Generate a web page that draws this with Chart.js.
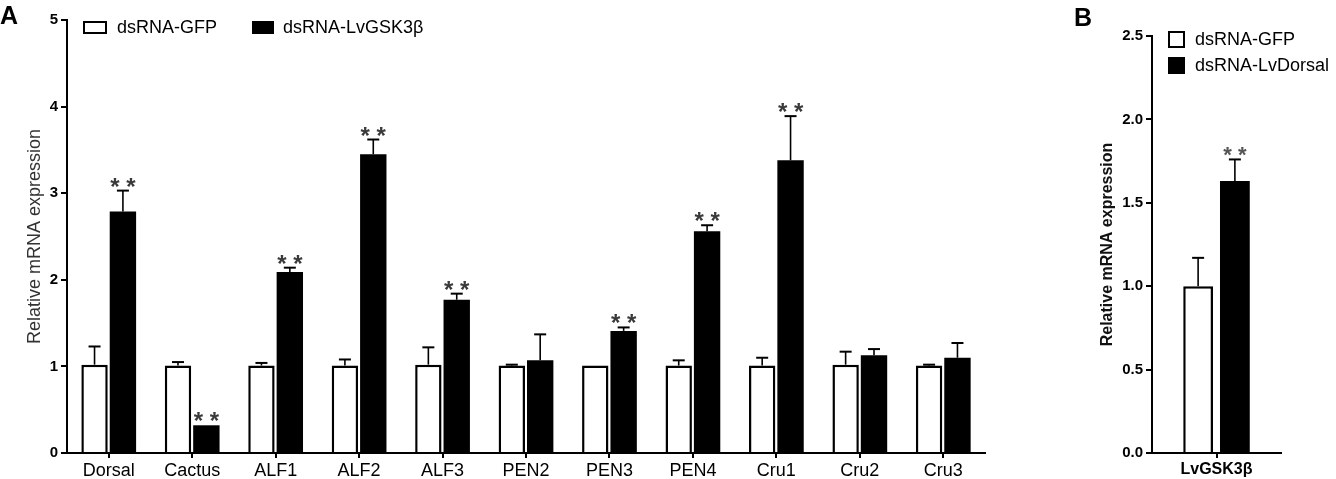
<!DOCTYPE html>
<html>
<head>
<meta charset="utf-8">
<script src="https://cdn.jsdelivr.net/npm/chart.js@4.4.1/dist/chart.umd.min.js"></script>
<style>
  body { margin: 0; background: #fff; font-family: "Liberation Sans", Arial, sans-serif; }
  #wrap { position: relative; width: 1336px; height: 479px; overflow: hidden; }
  .box { position: absolute; top: 0; height: 479px; }
  .panel { position: absolute; font-weight: bold; font-size: 25px; line-height: 25px; color: #000; }
  .leg { position: absolute; height: 20px; display: flex; align-items: center; font-size: 18px; color: #000; white-space: nowrap; }
  .sw { display: inline-block; box-sizing: border-box; border: 2.5px solid #000; }
</style>
</head>
<body>
<div id="wrap">
  <div class="box" style="left:0; width:1000px;"><canvas id="chartA"></canvas></div>
  <div class="box" style="left:1090px; width:246px;"><canvas id="chartB"></canvas></div>

  <div class="panel" style="left:0; top:3px;">A</div>
  <div class="panel" style="left:1074px; top:5px;">B</div>

  <!-- legends -->
  <div class="leg" style="left:83px; top:17px;"><span class="sw" style="width:24px;height:13px;background:#fff;margin-right:10px;"></span>dsRNA-GFP</div>
  <div class="leg" style="left:252px; top:17px;"><span class="sw" style="width:22px;height:13px;background:#000;margin-right:9px;"></span>dsRNA-LvGSK3β</div>
  <div class="leg" style="left:1168px; top:29px;"><span class="sw" style="width:17px;height:17px;background:#fff;margin-right:10px;"></span>dsRNA-GFP</div>
  <div class="leg" style="left:1168px; top:55px;"><span class="sw" style="width:17px;height:17px;background:#000;margin-right:10px;"></span>dsRNA-LvDorsal</div>
</div>

<script>
// ---- panel A data
const genesA = ['Dorsal', 'Cactus', 'ALF1', 'ALF2', 'ALF3', 'PEN2', 'PEN3', 'PEN4', 'Cru1', 'Cru2', 'Cru3'];
const gfpA    = [1.02, 1.01, 1.01, 1.01, 1.02, 1.01, 1.01, 1.01, 1.01, 1.02, 1.01];
const gfpErrA = [0.21, 0.04, 0.03, 0.07, 0.20, 0.01, 0.00, 0.06, 0.09, 0.15, 0.01];
const gskA    = [2.79, 0.32, 2.09, 3.45, 1.77, 1.07, 1.41, 2.56, 3.38, 1.13, 1.10];
const gskErrA = [0.24, 0.00, 0.05, 0.17, 0.07, 0.30, 0.04, 0.07, 0.51, 0.07, 0.17];
const sigA    = [true, true, true, true, true, false, true, true, true, false, false];

// ---- panel B data
const genesB    = ['LvGSK3β'];
const gfpB      = [1.00];
const gfpErrB   = [0.17];
const dorsalB   = [1.63];
const dorsalErrB = [0.13];
const sigB      = [true];

const FONT = '"Liberation Sans", Arial, sans-serif';
Chart.defaults.font.family = FONT;
Chart.defaults.color = '#000';

// error bars (upper only) + significance stars
const errStars = {
  id: 'errStars',
  afterDatasetsDraw(chart, args, opts) {
    const ctx = chart.ctx;
    const yScale = chart.scales.y;
    ctx.save();
    chart.data.datasets.forEach((ds, di) => {
      const meta = chart.getDatasetMeta(di);
      const err = opts.errors[di];
      const sig = opts.stars[di];
      meta.data.forEach((bar, i) => {
        const top = yScale.getPixelForValue(ds.data[i] + err[i]);
        if (err[i] > 0) {
          ctx.strokeStyle = '#000';
          ctx.lineWidth = 1.6;
          ctx.beginPath();
          ctx.moveTo(bar.x, bar.y);
          ctx.lineTo(bar.x, top);
          ctx.stroke();
          ctx.lineWidth = 2;
          ctx.beginPath();
          ctx.moveTo(bar.x - opts.capW / 2, top);
          ctx.lineTo(bar.x + opts.capW / 2, top);
          ctx.stroke();
        }
        if (sig && sig[i]) {
          ctx.fillStyle = opts.starColor;
          ctx.font = opts.starFont;
          ctx.textAlign = 'center';
          ctx.textBaseline = 'alphabetic';
          ctx.fillText('* *', bar.x, top + opts.starDy);
        }
      });
    });
    ctx.restore();
  }
};

function axisX(size, bold) {
  return {
    grid: { display: true, drawOnChartArea: false, drawTicks: true, tickLength: 5, color: '#000', lineWidth: 2, offset: false },
    border: { display: true, color: '#000', width: 2 },
    ticks: { color: '#000', font: { size: size, weight: bold ? 'bold' : 'normal' }, padding: 2, maxRotation: 0, autoSkip: false },
    afterFit(s) { s.height = 26; }
  };
}

// ---- panel A
new Chart(document.getElementById('chartA'), {
  type: 'bar',
  data: {
    labels: genesA,
    datasets: [
      { label: 'dsRNA-GFP', data: gfpA, backgroundColor: '#fff', borderColor: '#000', borderWidth: 2.5,
        barPercentage: 0.93, categoryPercentage: 0.68 },
      { label: 'dsRNA-LvGSK3β', data: gskA, backgroundColor: '#000', borderColor: '#000', borderWidth: 0,
        barPercentage: 0.93, categoryPercentage: 0.68 }
    ]
  },
  options: {
    responsive: true,
    maintainAspectRatio: false,
    animation: false,
    layout: { padding: { top: 20, right: 15, left: 0, bottom: 0 } },
    plugins: {
      legend: { display: false },
      tooltip: { enabled: false },
      errStars: { errors: [gfpErrA, gskErrA], stars: [null, sigA], capW: 12, starFont: 'bold 24px ' + FONT, starColor: '#3a3a3a', starDy: 4 }
    },
    scales: {
      x: axisX(18, false),
      y: {
        min: 0, max: 5,
        ticks: { stepSize: 1, color: '#000', font: { size: 15, weight: 'bold' }, padding: 3 },
        grid: { drawOnChartArea: false, tickLength: 6, color: '#000', lineWidth: 2 },
        border: { display: true, color: '#000', width: 2 },
        title: { display: true, text: 'Relative mRNA expression', color: '#333', font: { size: 18 }, padding: { top: 24, bottom: 0 } },
        afterFit(s) { s.width = 67; }
      }
    }
  },
  plugins: [errStars]
});

// ---- panel B
new Chart(document.getElementById('chartB'), {
  type: 'bar',
  data: {
    labels: genesB,
    datasets: [
      { label: 'dsRNA-GFP', data: gfpB, backgroundColor: '#fff', borderColor: '#000', borderWidth: 2.5,
        barPercentage: 0.81, categoryPercentage: 0.57 },
      { label: 'dsRNA-LvDorsal', data: dorsalB, backgroundColor: '#000', borderColor: '#000', borderWidth: 0,
        barPercentage: 0.81, categoryPercentage: 0.57 }
    ]
  },
  options: {
    responsive: true,
    maintainAspectRatio: false,
    animation: false,
    layout: { padding: { top: 36, right: 55, left: 0, bottom: 0 } },
    plugins: {
      legend: { display: false },
      tooltip: { enabled: false },
      errStars: { errors: [gfpErrB, dorsalErrB], stars: [null, sigB], capW: 12, starFont: 'bold 22px ' + FONT, starColor: '#555', starDy: 3 }
    },
    scales: {
      x: axisX(16, true),
      y: {
        min: 0, max: 2.5,
        ticks: { stepSize: 0.5, color: '#000', font: { size: 15, weight: 'bold' }, padding: 3, callback: v => v.toFixed(1) },
        grid: { drawOnChartArea: false, tickLength: 6, color: '#000', lineWidth: 2 },
        border: { display: true, color: '#000', width: 2 },
        title: { display: true, text: 'Relative mRNA expression', color: '#111', font: { size: 16, weight: 'bold' }, padding: { top: 8, bottom: 0 } },
        afterFit(s) { s.width = 62; }
      }
    }
  },
  plugins: [errStars]
});
</script>
</body>
</html>
